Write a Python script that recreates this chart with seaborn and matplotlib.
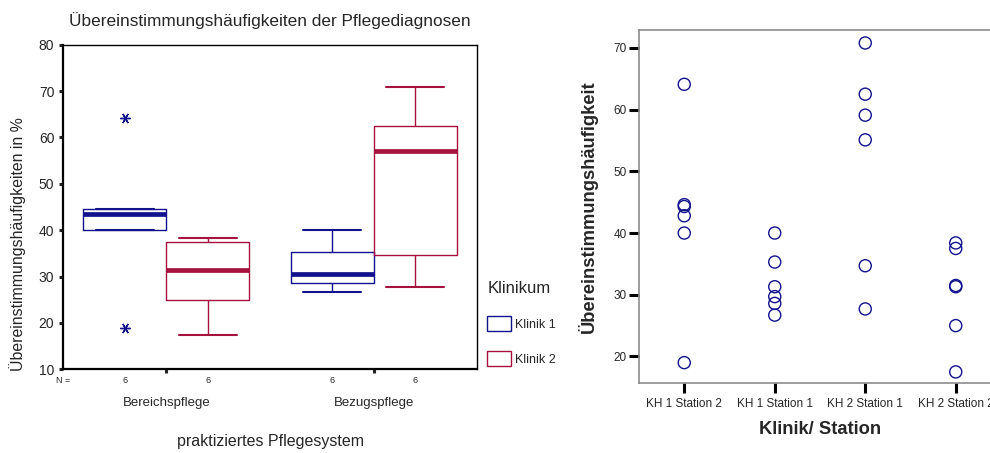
import numpy as np
import pandas as pd
import matplotlib as mpl
mpl.use("Agg")
import matplotlib.pyplot as plt
import matplotlib.transforms as mtransforms
import seaborn as sns

# ---------------- data ----------------
systems = ["Bereichspflege", "Bezugspflege"]
kliniken = ["Klinik 1", "Klinik 2"]
stations = ["KH 1 Station 2", "KH 1 Station 1", "KH 2 Station 1", "KH 2 Station 2"]
station_system = ["Bereichspflege", "Bezugspflege", "Bezugspflege", "Bereichspflege"]
station_klinik = ["Klinik 1", "Klinik 1", "Klinik 2", "Klinik 2"]
kh1_st2 = [64.1, 44.6, 44.3, 42.8, 40.0, 19.0]
kh1_st1 = [40.0, 35.3, 31.3, 29.7, 28.6, 26.7]
kh2_st1 = [70.8, 62.5, 59.1, 55.1, 34.7, 27.7]
kh2_st2 = [38.4, 37.5, 31.5, 31.3, 25.0, 17.5]
station_values = [kh1_st2, kh1_st1, kh2_st1, kh2_st2]

rows = []
for st, sy, kl, vals in zip(stations, station_system, station_klinik, station_values):
    for v in vals:
        rows.append({"station": st, "system": sy, "klinik": kl, "value": v})
df = pd.DataFrame(rows)

navy = "#12128c"
crimson = "#a8123e"
palette = {"Klinik 1": navy, "Klinik 2": crimson}

# SPSS-style box statistics (Tukey hinges)
_orig_stats = mpl.cbook.boxplot_stats


def tukey_hinge_stats(X, whis=1.5, bootstrap=None, labels=None, autorange=False):
    out = _orig_stats(X, whis=whis, bootstrap=bootstrap, labels=labels, autorange=autorange)
    for st, x in zip(out, X):
        xs = np.sort(np.asarray(x, dtype=float))
        n = len(xs)
        q1 = np.median(xs[: (n + 1) // 2])
        q3 = np.median(xs[n // 2:])
        iqr = q3 - q1
        lo = q1 - whis * iqr
        hi = q3 + whis * iqr
        whislo = xs[xs >= lo].min()
        whishi = xs[xs <= hi].max()
        st["q1"], st["q3"], st["iqr"] = q1, q3, iqr
        st["whislo"], st["whishi"] = whislo, whishi
        st["fliers"] = xs[(xs < whislo) | (xs > whishi)]
    return out


mpl.cbook.boxplot_stats = tukey_hinge_stats

sns.set_style("white")
plt.rcParams["font.family"] = ["Liberation Sans", "DejaVu Sans"]

W, H = 990, 453
fig = plt.figure(figsize=(W / 100, H / 100), dpi=100)

# ---------------- left: boxplot ----------------
l, r, t, b = 62.7, 477.3, 44.7, 369.3
ax1 = fig.add_axes([l / W, 1 - b / H, (r - l) / W, (b - t) / H])
sns.boxplot(
    data=df, x="system", y="value", hue="klinik", order=systems, hue_order=kliniken,
    palette=palette, fill=False, width=0.8, gap=0, linewidth=1.0, whis=1.5,
    medianprops=dict(linewidth=3.4),
    capprops=dict(linewidth=1.5),
    flierprops=dict(marker=(6, 2, 90), markersize=7.5, markeredgewidth=1.0),
    capwidths=0.28,
    ax=ax1,
)
ax1.set_xlim(-0.5, 1.5)
ax1.set_ylim(10, 80)
ax1.set_yticks(np.arange(10, 81, 10))
for side in ["left", "bottom"]:
    ax1.spines[side].set_linewidth(1.6)
for side in ["top", "right"]:
    ax1.spines[side].set_linewidth(1.0)
for sp in ax1.spines.values():
    sp.set_color("black")
    sp.set_visible(True)
ax1.tick_params(axis="y", direction="out", length=3, width=2.2, labelsize=10, pad=3, left=True)
ax1.tick_params(axis="x", direction="out", length=3, width=2.2, labelsize=9.5, pad=17, bottom=True)
ax1.set_title("Übereinstimmungshäufigkeiten der Pflegediagnosen", fontsize=12.4, y=1.076, va="center", pad=0)
ax1.set_ylabel("Übereinstimmungshäufigkeiten in %", fontsize=11.4)
ax1.yaxis.label.set_va("center")
ax1.yaxis.set_label_coords(-0.110, 0.386)
ax1.set_xlabel("praktiziertes Pflegesystem", fontsize=11.5)
ax1.xaxis.label.set_va("center")
ax1.xaxis.set_label_coords(0.5, -0.221)

# N row
trans = mtransforms.blended_transform_factory(ax1.transData, ax1.transAxes)
ax1.text(0.0, -0.036, "N =", transform=ax1.transAxes, ha="center", va="center", fontsize=6.5)
counts = df.groupby(["system", "klinik"])["value"].count()
for i, sy in enumerate(systems):
    for j, kl in enumerate(kliniken):
        xpos = i + (j - 0.5) * 0.4
        ax1.text(xpos, -0.036, str(counts[(sy, kl)]), transform=trans, ha="center", va="center", fontsize=6.5)

handles, labels = ax1.get_legend_handles_labels()
if ax1.legend_ is not None:
    ax1.legend_.remove()
fig.legend(
    handles, labels, title="Klinikum", loc="upper left",
    bbox_to_anchor=(476 / W, 1 - 270 / H), frameon=False, fontsize=9, title_fontsize=12,
    handlelength=1.9, handleheight=1.55, labelspacing=1.55, alignment="left", handletextpad=0.3,
)

# ---------------- right: strip plot ----------------
l2, r2, t2, b2 = 639, 1001, 30, 383
ax2 = fig.add_axes([l2 / W, 1 - b2 / H, (r2 - l2) / W, (b2 - t2) / H])
sns.stripplot(
    data=df, x="station", y="value", order=stations, jitter=False, marker="o",
    size=8.7, color=navy, edgecolor=navy, linewidth=1.0, ax=ax2,
)
for c in ax2.collections:
    c.set_facecolor("none")
    c.set_edgecolor(navy)
ax2.set_xlim(-0.5, 3.5)
ax2.set_ylim(15.7, 72.9)
ax2.set_yticks(np.arange(20, 71, 10))
for side in ["left", "bottom", "top"]:
    ax2.spines[side].set_visible(True)
    ax2.spines[side].set_color("#8c8c8c")
    ax2.spines[side].set_linewidth(1.2)
ax2.spines["right"].set_visible(False)
ax2.tick_params(axis="both", direction="out", length=7, width=2.2, color="black", labelsize=8.5, left=True, bottom=True)
ax2.tick_params(axis="y", pad=2)
ax2.tick_params(axis="x", pad=4)
ax2.set_ylabel("Übereinstimmungshäufigkeit", fontsize=13.2, fontweight="bold")
ax2.yaxis.label.set_va("center")
ax2.yaxis.set_label_coords(-0.141, 0.5)
ax2.set_xlabel("Klinik/ Station", fontsize=13.2, fontweight="bold")
ax2.xaxis.label.set_va("center")
ax2.xaxis.set_label_coords(0.5, -0.133)

fig.savefig("out.png", dpi=100)
